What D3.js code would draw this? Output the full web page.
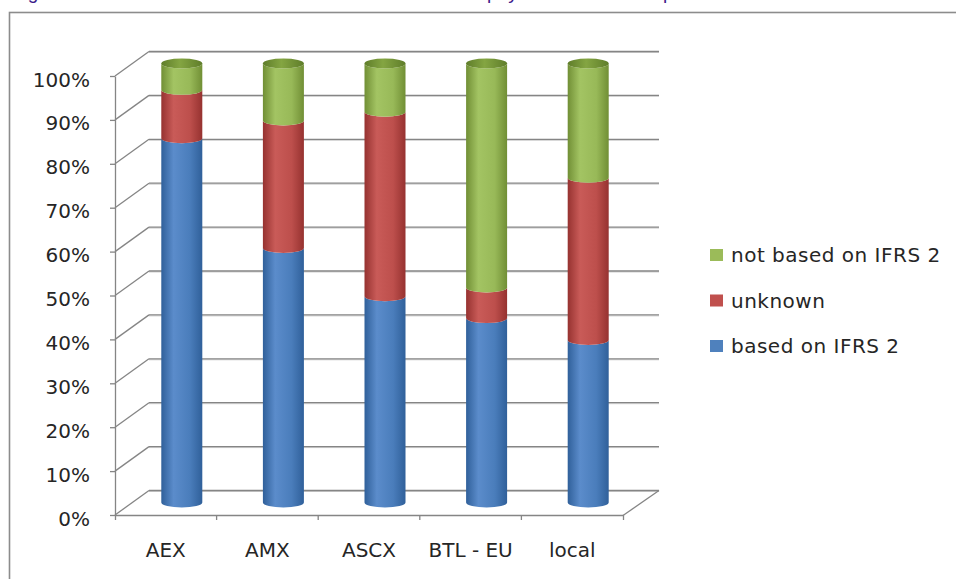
<!DOCTYPE html>
<html>
<head>
<meta charset="utf-8">
<script src="https://cdn.jsdelivr.net/npm/d3@7"></script>
<style>
  html, body { margin: 0; padding: 0; background: #ffffff; }
  svg { display: block; }
</style>
</head>
<body>
<svg id="chart" width="956" height="579"></svg>
<script>
// ---- data ----
const categories = ["AEX", "AMX", "ASCX", "BTL - EU", "local"];
const basedOnIFRS2 = [83, 58, 47, 42, 37];
const unknown = [11, 29, 42, 7, 37];
const notBasedOnIFRS2 = [6, 13, 11, 51, 26];
const seriesNames = ["based on IFRS 2", "unknown", "not based on IFRS 2"];
const yTickValues = [0, 10, 20, 30, 40, 50, 60, 70, 80, 90, 100];

// ---- style / layout ----
const colors = {
  "based on IFRS 2":     { dark: "#30609a", mid: "#4a7dbb", light: "#5b8ccb", legend: "#4f81bd" },
  "unknown":             { dark: "#963230", mid: "#bd4f4c", light: "#c95b58", legend: "#c0504d" },
  "not based on IFRS 2": { dark: "#718f35", mid: "#98b958", light: "#a3c463", legend: "#9bbb59" }
};
const capColor = { dark: "#5f7d2a", light: "#84a542" };
const frontLeft = 115, frontRight = 623, frontBottom = 515, frontTop = 76;
const depthX = 34, depthY = -24.5;
const barShiftX = 16, barShiftY = -12.5;
const rx = 20.5, ry = 5;
const fontFamily = "'DejaVu Sans', Verdana, sans-serif";

const svg = d3.select("#chart");
const defs = svg.append("defs");

// gradients
Object.entries(colors).forEach(([name, c], i) => {
  const g = defs.append("linearGradient").attr("id", "grad" + i)
    .attr("x1", 0).attr("x2", 1).attr("y1", 0).attr("y2", 0);
  g.append("stop").attr("offset", "0%").attr("stop-color", c.dark);
  g.append("stop").attr("offset", "30%").attr("stop-color", c.light);
  g.append("stop").attr("offset", "70%").attr("stop-color", c.mid);
  g.append("stop").attr("offset", "100%").attr("stop-color", c.dark);
});
{
  const g = defs.append("linearGradient").attr("id", "gradCap")
    .attr("x1", 0).attr("x2", 1).attr("y1", 0).attr("y2", 0);
  g.append("stop").attr("offset", "0%").attr("stop-color", capColor.dark);
  g.append("stop").attr("offset", "45%").attr("stop-color", capColor.light);
  g.append("stop").attr("offset", "100%").attr("stop-color", capColor.dark);
}

// caption fragment (cut off at the top of the picture, only descenders show)
const cap = svg.append("text")
  .attr("y", -1)
  .attr("font-family", "'Liberation Sans', Arial, sans-serif")
  .attr("font-size", 19)
  .attr("fill", "#3c1a8a");
cap.append("tspan").attr("x", 12).text("Figure 9: Measurement and disclosure of share-based");
cap.append("tspan").attr("x", 487).text("payment in the");
cap.append("tspan").attr("x", 646).text("reports");

// outer frame
svg.append("rect")
  .attr("x", 9.5).attr("y", 12.5)
  .attr("width", 1200).attr("height", 1200)
  .attr("fill", "none")
  .attr("stroke", "#8c8c8c")
  .attr("stroke-width", 1.6);

// ---- scales ----
const x = d3.scaleBand().domain(categories).range([frontLeft, frontRight]).padding(0);
const y = d3.scaleLinear().domain([0, 100]).range([frontBottom, frontTop]);

const gridColor = "#858585";

// back wall gridlines + side wall diagonals
const grid = svg.append("g");
yTickValues.forEach(v => {
  grid.append("line")
    .attr("x1", frontLeft + depthX).attr("x2", frontRight + depthX + 2)
    .attr("y1", y(v) + depthY + 1).attr("y2", y(v) + depthY + 1)
    .attr("stroke", "#cfcfcf").attr("stroke-width", 1);
  grid.append("line")
    .attr("x1", frontLeft + depthX).attr("x2", frontRight + depthX + 2)
    .attr("y1", y(v) + depthY).attr("y2", y(v) + depthY)
    .attr("stroke", gridColor).attr("stroke-width", 1.3);
  grid.append("line")
    .attr("x1", frontLeft).attr("x2", frontLeft + depthX)
    .attr("y1", y(v)).attr("y2", y(v) + depthY)
    .attr("stroke", gridColor).attr("stroke-width", 1.3);
});
// floor right diagonal
grid.append("line")
  .attr("x1", frontRight).attr("x2", frontRight + depthX + 2)
  .attr("y1", y(0) + 0.5).attr("y2", y(0) + depthY)
  .attr("stroke", gridColor).attr("stroke-width", 1.3);

// ---- stacked cylinders ----
const table = categories.map((c, i) => ({
  category: c,
  "based on IFRS 2": basedOnIFRS2[i],
  "unknown": unknown[i],
  "not based on IFRS 2": notBasedOnIFRS2[i]
}));
const stacked = d3.stack().keys(seriesNames)(table);

function segPath(cx, yb, yt) {
  return `M${cx - rx},${yt} A${rx},${ry} 0 0 0 ${cx + rx},${yt} ` +
         `L${cx + rx},${yb} A${rx},${ry} 0 0 1 ${cx - rx},${yb} Z`;
}

const bars = svg.append("g");
stacked.forEach((layer, si) => {
  bars.selectAll(null).data(layer).enter().append("path")
    .attr("d", d => {
      const cx = x(d.data.category) + x.bandwidth() / 2 + barShiftX;
      return segPath(cx, y(d[0]) + barShiftY, y(d[1]) + barShiftY);
    })
    .attr("fill", `url(#grad${si})`);
});
// top caps
const topLayer = stacked[stacked.length - 1];
bars.selectAll(null).data(topLayer).enter().append("ellipse")
  .attr("cx", d => x(d.data.category) + x.bandwidth() / 2 + barShiftX)
  .attr("cy", d => y(d[1]) + barShiftY)
  .attr("rx", rx).attr("ry", ry)
  .attr("fill", "url(#gradCap)");

// ---- axes ----
const yAxis = svg.append("g")
  .attr("transform", `translate(${frontLeft},0)`)
  .call(d3.axisLeft(y).tickValues(yTickValues).tickFormat(d => d + "%")
    .tickSizeInner(5).tickSizeOuter(0).tickPadding(20));
yAxis.select(".domain").attr("stroke", gridColor).attr("stroke-width", 1.3);
yAxis.selectAll(".tick line").attr("stroke", gridColor).attr("stroke-width", 1.3);
yAxis.selectAll(".tick text")
  .attr("dy", "0.5em")
  .attr("font-family", fontFamily).attr("font-size", 20)
  .attr("fill", "#262626");

const xAxis = svg.append("g")
  .attr("transform", `translate(0,${frontBottom})`)
  .call(d3.axisBottom(x).tickSizeInner(0).tickSizeOuter(5).tickPadding(28));
xAxis.select(".domain").attr("stroke", gridColor).attr("stroke-width", 1.3);
xAxis.selectAll(".tick text")
  .attr("font-family", fontFamily).attr("font-size", 20)
  .attr("fill", "#262626");
// boundary tick marks between categories
xAxis.selectAll(".boundary").data(categories.slice(1)).enter().append("line")
  .attr("x1", d => x(d)).attr("x2", d => x(d))
  .attr("y1", 0).attr("y2", 5)
  .attr("stroke", gridColor).attr("stroke-width", 1.3);

// ---- legend ----
const legendOrder = ["not based on IFRS 2", "unknown", "based on IFRS 2"];
const legend = svg.append("g").attr("transform", "translate(710,255)");
legendOrder.forEach((name, i) => {
  const g = legend.append("g").attr("transform", `translate(0,${i * 45.5})`);
  g.append("rect").attr("x", 0).attr("y", -6).attr("width", 13).attr("height", 12)
    .attr("fill", colors[name].legend);
  g.append("text").attr("x", 21).attr("y", 0).attr("dy", "0.36em")
    .attr("font-family", fontFamily).attr("font-size", 20)
    .attr("letter-spacing", 0.5)
    .attr("fill", "#262626")
    .text(name);
});
</script>
</body>
</html>
